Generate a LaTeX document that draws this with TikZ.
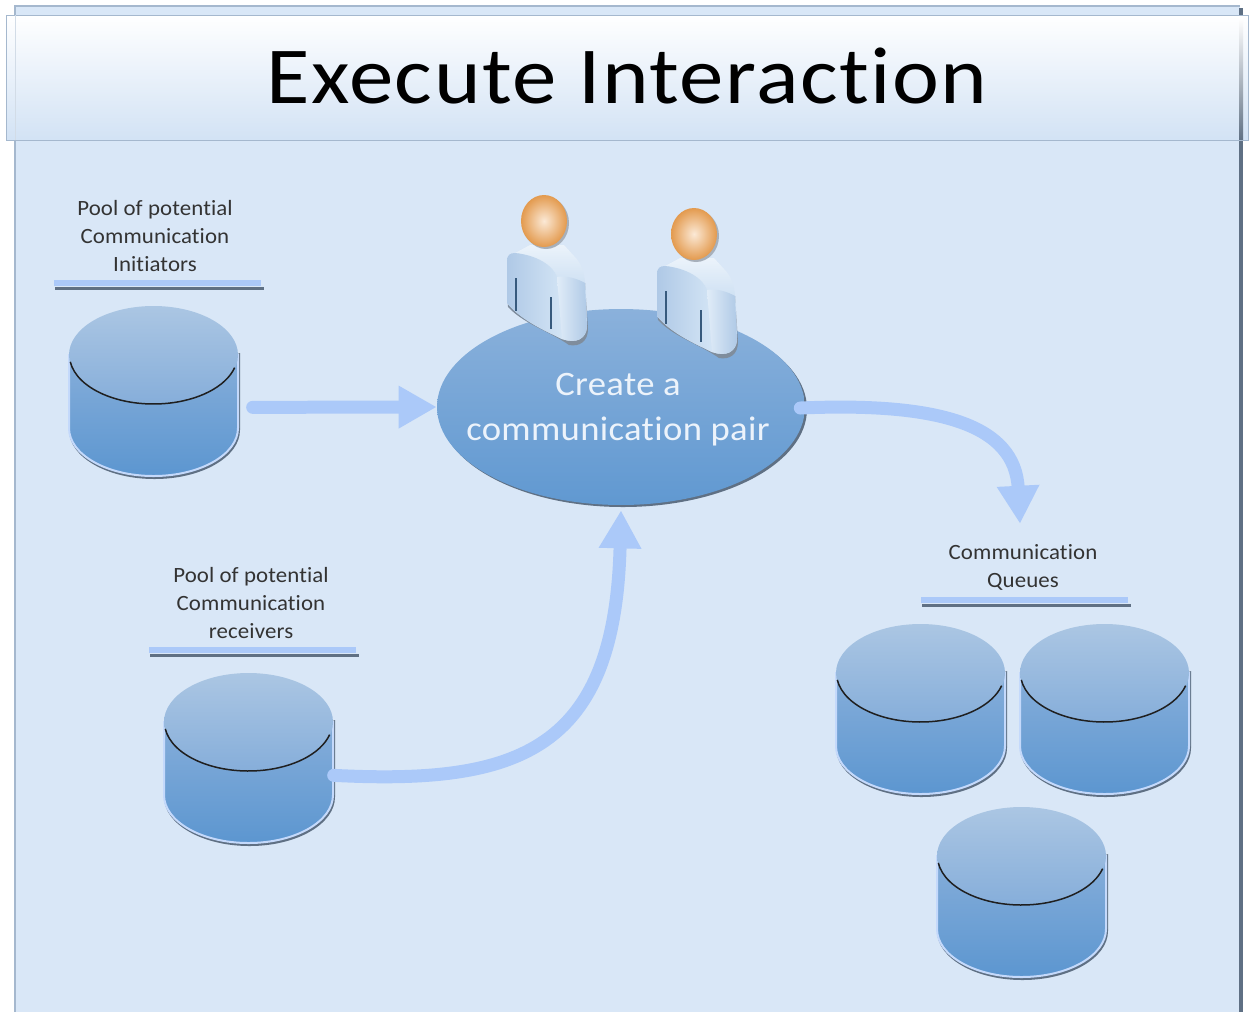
\documentclass[tikz,border=0pt]{standalone}
\usepackage{fontspec}
\setmainfont{Carlito}[Ligatures=NoCommon]
\newfontfamily\titlefont{Carlito}[Ligatures=NoCommon, FakeStretch=1.1, LetterSpace=1.8]
\newfontfamily\pairfont{Carlito}[Ligatures=NoCommon, FakeStretch=1.07, LetterSpace=1]
\newfontfamily\captionfont{Carlito}[Ligatures=NoCommon, FakeStretch=1.05, LetterSpace=0.5]
\usetikzlibrary{arrows.meta,calc,shapes.geometric}
\definecolor{panelblue}{HTML}{D9E7F7}
\definecolor{panelline}{HTML}{A5B8CE}
\definecolor{flowblue}{HTML}{ABC9F9}
\definecolor{edgegrey}{HTML}{5F7084}
\definecolor{drumtop}{HTML}{ABC6E3}
\definecolor{drumlid}{HTML}{86AEDA}
\definecolor{drumbottom}{HTML}{5C96D0}
\definecolor{skinlight}{HTML}{FBE9D6}
\definecolor{skindark}{HTML}{E39A4E}
\definecolor{coatdark}{HTML}{AFC9E6}
\definecolor{coatlight}{HTML}{D3E4F5}
\tikzset{
	x=0.02cm, y=-0.02cm,
	flow/.style={line width=0.26cm, color=flowblue, line cap=round},
	flowtip/.style={-{Triangle[length=0.76cm, width=0.8cm]}},
	caption/.style={align=center, text=black!80, font=\captionfont\fontsize{12.4}{15.9}\selectfont, inner sep=0pt},
	drumbox/.style={minimum width=3.38cm, minimum height=3.4cm, inner sep=0pt, anchor=north west},
}
% (left, top) in pixels, then the name of the drum
\def\drum(#1,#2)#3{
	\node[drumbox] (#3) at (#1, #2) {};
	\begin{scope}[shift={(#1, #2)}]
		\fill[edgegrey] (171, 46) -- (171, 123) arc (0:180:85.5 and 49) -- cycle;
		\shade[top color=drumlid, bottom color=drumbottom, draw=flowblue!70!white, line width=0.04cm]
			(0, 48) -- (0, 121) arc (180:0:84.5 and 48) -- (169, 48) -- cycle;
		\shade[top color=drumtop, bottom color=drumlid] (84.5, 48) ellipse (84.5 and 49);
		\draw[line width=0.03cm, color=black!88] (1.3, 54.8) arc (172:15:84 and 49);
	\end{scope}
}
% the centre of the head, in pixels
\def\person(#1,#2){
	\begin{scope}[shift={(#1, #2)}]
		\fill[edgegrey!80] (-37, 41) -- (-36, 84) .. controls (-20, 101) and (5, 108) .. (25, 122)
			.. controls (36, 124) and (44, 118) .. (44, 106) -- (41, 60) -- cycle;
		\fill[coatlight] (-37, 38) -- (-29, 30) -- (-14, 22) -- (20, 22) -- (30, 35)
			.. controls (38, 45) and (41, 55) .. (42, 70) -- (43, 104) .. controls (42, 116) and (32, 121) .. (18, 116)
			.. controls (2, 108) and (-22, 98) .. (-37, 80) -- cycle;
		\shade[top color=coatlight!45!white, bottom color=coatlight!90!coatdark] (-29, 30) -- (-14, 22) -- (20, 22) -- (30, 33)
			.. controls (37, 40) and (40, 48) .. (41, 60) -- (13, 54) .. controls (8, 42) and (-10, 32) .. (-29, 30) -- cycle;
		\shade[left color=coatdark, right color=coatlight] (-37, 38) .. controls (-37, 32) and (-34, 30) .. (-29, 30)
			.. controls (-8, 32) and (9, 42) .. (13, 54) -- (18, 116)
			.. controls (2, 108) and (-22, 98) .. (-37, 80) -- cycle;
		\shade[left color=coatlight!70!white, right color=coatdark] (13, 54) .. controls (22, 52) and (34, 56) .. (41, 60)
			-- (43, 104) .. controls (42, 116) and (32, 121) .. (18, 116) -- cycle;
		\draw[line width=0.04cm, color=drumbottom!60!black] (-28, 55) -- (-28, 88);
		\draw[line width=0.04cm, color=drumbottom!60!black] (7, 74) -- (7, 106);
		\fill[edgegrey!55] (2, 0) ellipse (23 and 26);
		\shade[shading=radial, inner color=skinlight, outer color=skindark] (0, -2) ellipse (23 and 26);
	\end{scope}
}
\begin{document}
\begin{tikzpicture}
	\useasboundingbox (0, 0) rectangle (1253, 1012);
	%%%%% PANELS %%%%%
	\fill[panelblue] (15, 6) rectangle (1240, 1012);
	\draw[panelline, line width=0.03cm] (15, 1012) -- (15, 6) -- (1240, 6);
	\draw[edgegrey, line width=0.08cm] (1241, 8) -- (1241, 1012);
	\shade[top color=white, bottom color=panelblue!92!drumlid] (6, 15) rectangle (1248, 140);
	\shade[top color=white, bottom color=edgegrey] (1239, 18) rectangle (1243, 140);
	\draw[panelline, line width=0.02cm] (6, 15) rectangle (1248, 140);
	\draw[panelline!50, line width=0.02cm] (15, 15) -- (15, 140);
	\node[font=\titlefont\fontsize{46}{50}\selectfont, inner sep=0pt] (title) at (627, 76) {Execute Interaction};

	%%%%% POOLS %%%%%
	\node[caption] (initiators label) at (155, 236) {Pool of potential\\Communication\\Initiators};
	\draw[edgegrey, line width=0.06cm] (55, 288) -- (264, 288);
	\draw[flowblue, line width=0.11cm] (54, 283) -- (261, 283);
	\drum(69,307){initiators}

	\node[caption] (receivers label) at (251, 603) {Pool of potential\\Communication\\receivers};
	\draw[edgegrey, line width=0.06cm] (150, 655) -- (359, 655);
	\draw[flowblue, line width=0.11cm] (149, 650) -- (356, 650);
	\drum(164,674){receivers}

	%%%%% QUEUES %%%%%
	\node[caption] (queues label) at (1023, 567) {Communication\\Queues};
	\draw[edgegrey, line width=0.06cm] (922, 605) -- (1131, 605);
	\draw[flowblue, line width=0.11cm] (921, 600) -- (1128, 600);
	\drum(836,625){queue a}
	\drum(1020,625){queue b}
	\drum(937,808){queue c}

	%%%%% PAIR %%%%%
	\fill[edgegrey] (623, 409) ellipse (184 and 98);
	\node[ellipse, minimum width=7.36cm, minimum height=3.92cm, inner sep=0pt, top color=drumlid!88!drumtop, bottom color=drumbottom!90!drumlid] (pair) at (621, 407) {};
	\node[align=center, text=panelblue!50!white, font=\pairfont\fontsize{19.5}{25.5}\selectfont, inner sep=0pt] (pair label) at (618, 410) {Create a\\communication pair};
	\person(544,223)
	\person(694,236)

	%%%%% FLOWS %%%%%
	\draw[flow, flowtip] ([shift={(14, 15)}]initiators.east) -- (pair.west);
	\draw[flow, flowtip] ([shift={(0, 16)}]receivers.east) .. controls (520, 785) and (615, 750) .. ([shift={(0, 5)}]pair.south);
	\draw[flow, flowtip] ([shift={(-5, 1)}]pair.east) .. controls (940, 402) and (1015, 425) .. ([shift={(-3, -20)}]queues label.north);
\end{tikzpicture}
\end{document}
